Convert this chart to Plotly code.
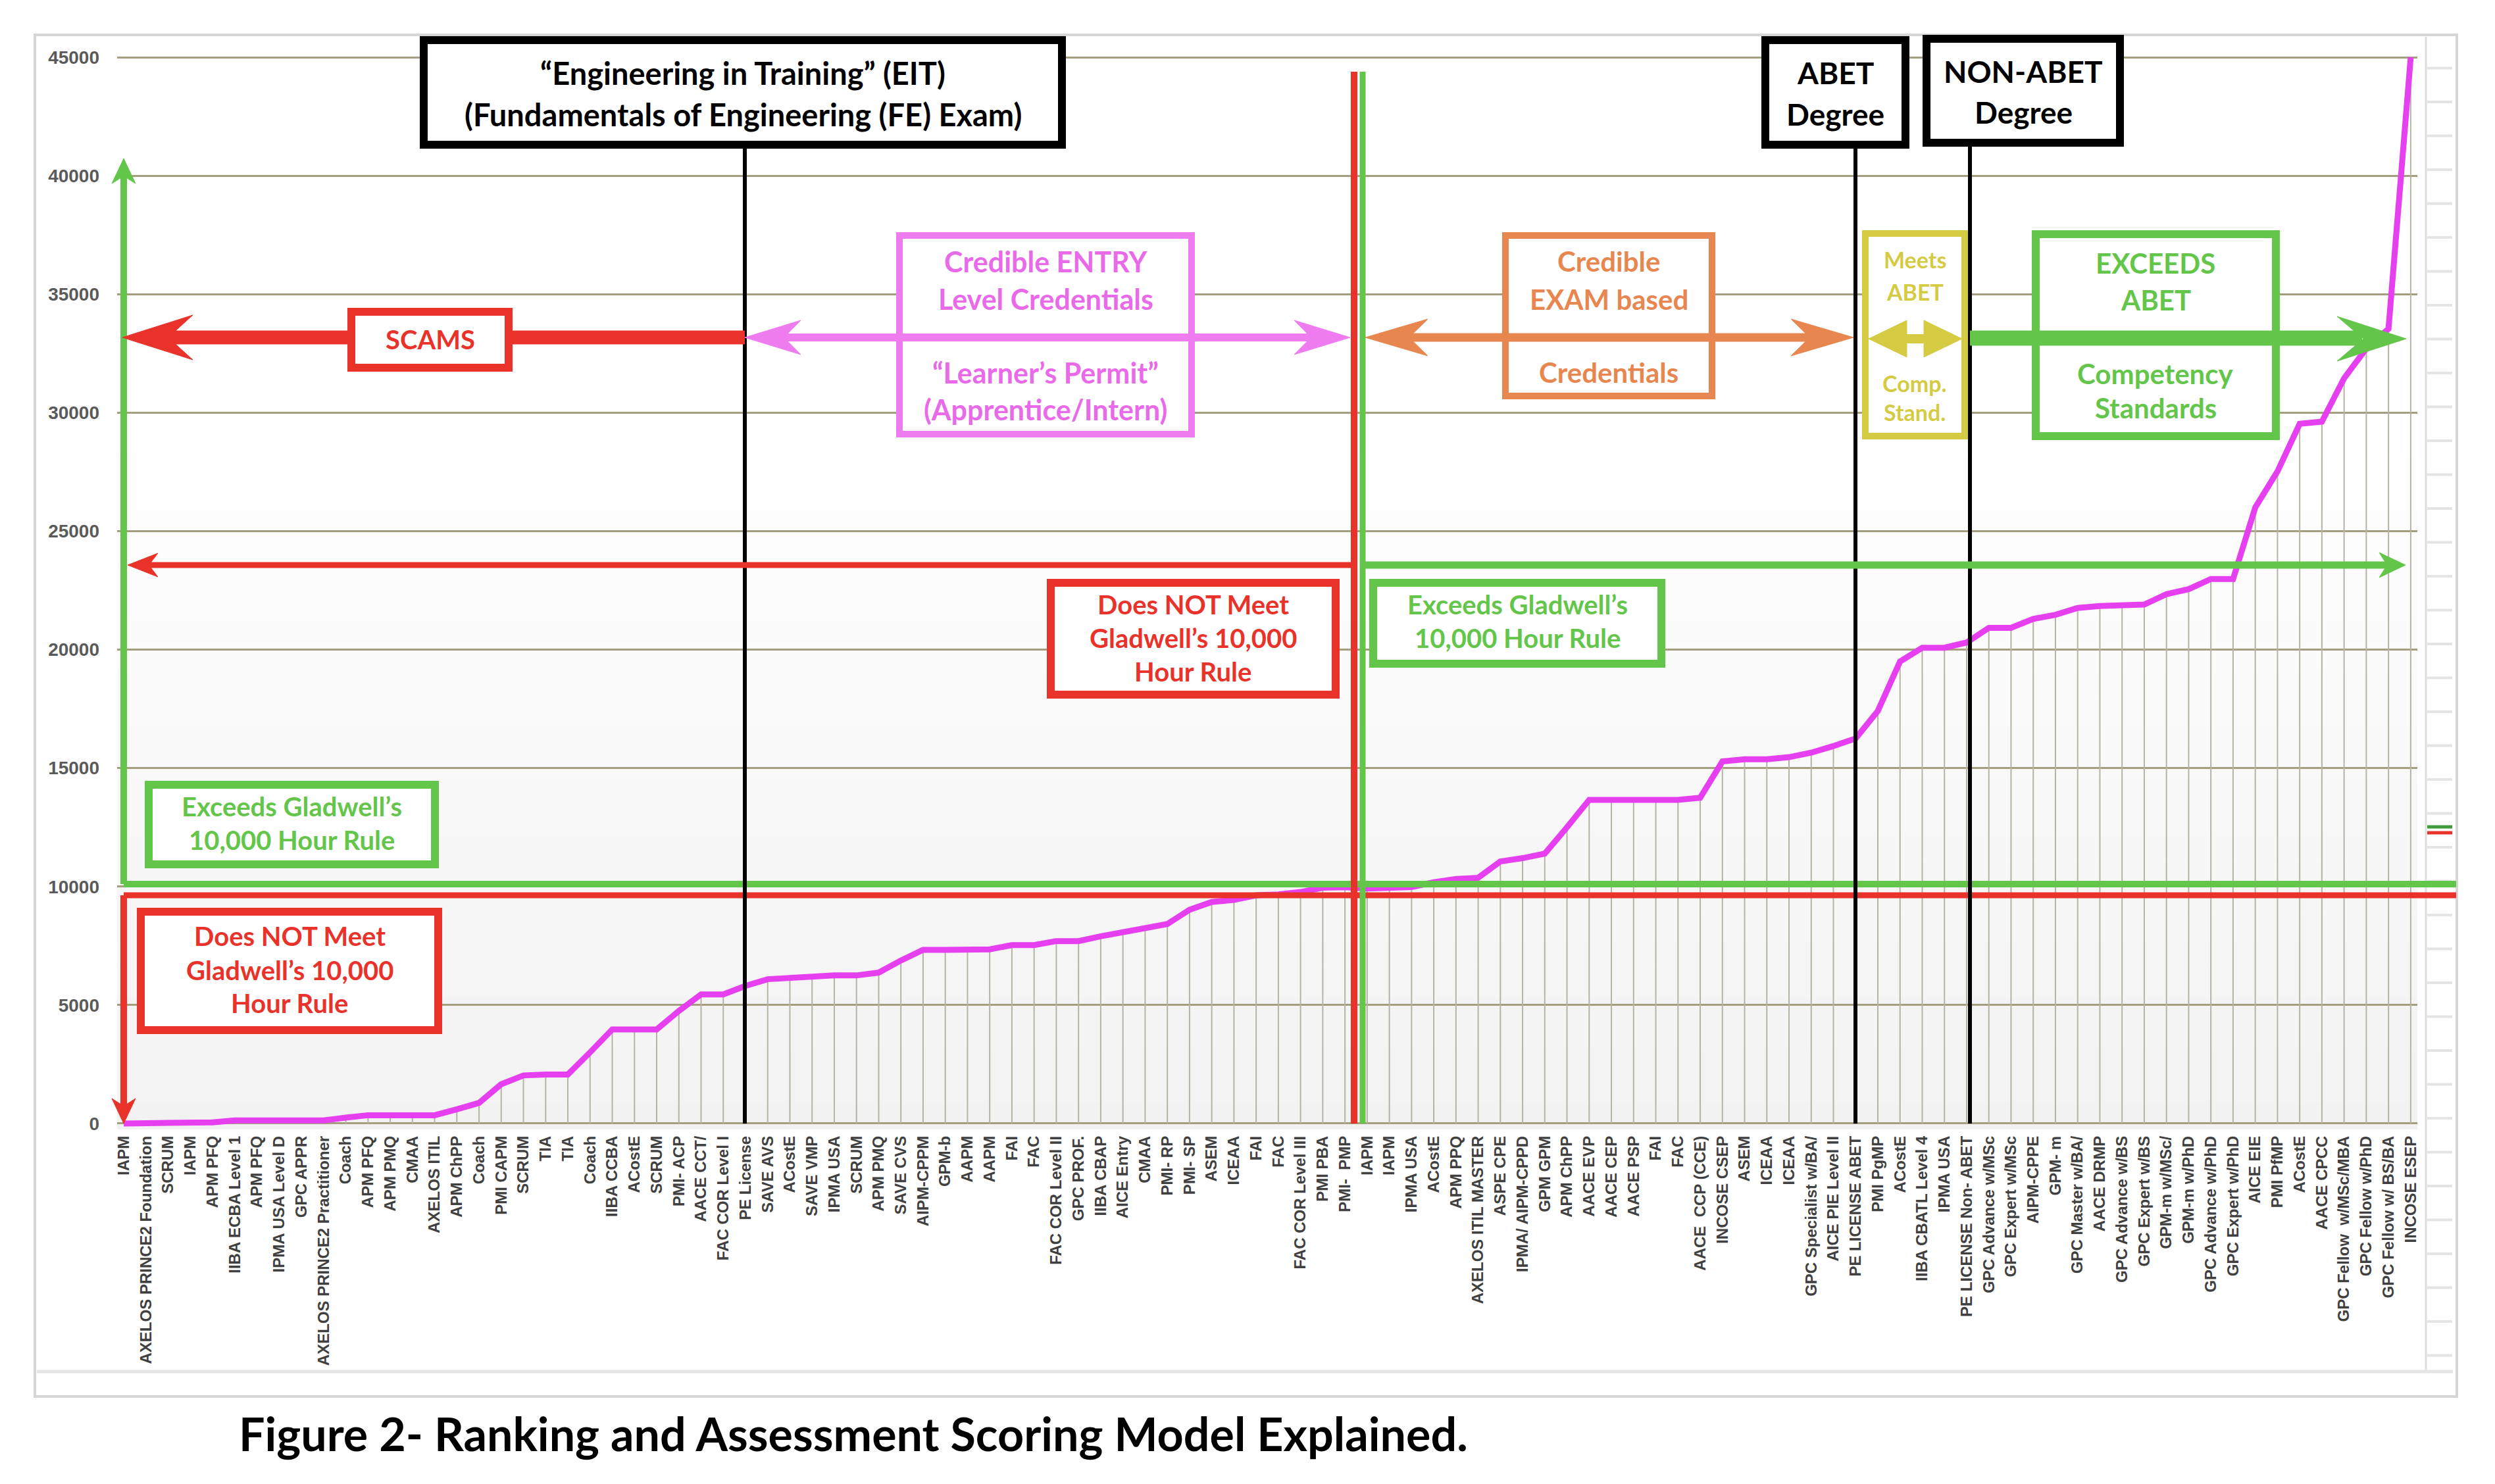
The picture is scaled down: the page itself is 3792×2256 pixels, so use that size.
import plotly.graph_objects as go

labels = [
    "IAPM", "AXELOS PRINCE2 Foundation", "SCRUM", "IAPM", "APM PFQ", "IIBA ECBA Level 1",
    "APM PFQ", "IPMA USA Level D", "GPC APPR", "AXELOS PRINCE2 Practitioner", "Coach",
    "APM PFQ", "APM PMQ", "CMAA", "AXELOS ITIL", "APM ChPP", "Coach", "PMI CAPM",
    "SCRUM", "TIA", "TIA", "Coach", "IIBA CCBA", "ACostE", "SCRUM", "PMI- ACP",
    "AACE CCT/", "FAC COR Level I", "PE License", "SAVE AVS", "ACostE", "SAVE VMP",
    "IPMA USA", "SCRUM", "APM PMQ", "SAVE CVS", "AIPM-CPPM", "GPM-b", "AAPM", "AAPM",
    "FAI", "FAC", "FAC COR Level II", "GPC PROF.", "IIBA CBAP", "AICE Entry", "CMAA",
    "PMI- RP", "PMI- SP", "ASEM", "ICEAA", "FAI", "FAC", "FAC COR Level III", "PMI PBA",
    "PMI-  PMP", "IAPM", "IAPM", "IPMA USA", "ACostE", "APM PPQ", "AXELOS ITIL MASTER",
    "ASPE CPE", "IPMA/ AIPM-CPPD", "GPM GPM", "APM ChPP", "AACE EVP", "AACE CEP",
    "AACE PSP", "FAI", "FAC", "AACE  CCP (CCE)", "INCOSE CSEP", "ASEM", "ICEAA", "ICEAA",
    "GPC Specialist w/BA/", "AICE PIE Level II", "PE LICENSE ABET", "PMI PgMP", "ACostE",
    "IIBA CBATL Level 4", "IPMA USA", "PE LICENSE Non- ABET", "GPC Advance w/MSc",
    "GPC Expert w/MSc", "AIPM-CPPE", "GPM- m", "GPC Master w/BA/", "AACE DRMP",
    "GPC Advance w/BS", "GPC Expert w/BS", "GPM-m w/MSc/", "GPM-m w/PhD",
    "GPC Advance w/PhD", "GPC Expert w/PhD", "AICE EIE", "PMI PfMP", "ACostE",
    "AACE CPCC", "GPC Fellow  w/MSc/MBA", "GPC Fellow w/PhD", "GPC Fellow w/ BS/BA",
    "INCOSE ESEP",
]

hours = [
    0, 0, 0, 0, 50, 130, 130, 130, 130, 130,
    250, 350, 350, 350, 350, 600, 870, 1660, 2030, 2070,
    2070, 3000, 3970, 3970, 3970, 4750, 5450, 5450, 5810, 6090,
    6150, 6150, 6250, 6250, 6370, 6880, 7330, 7330, 7330, 7350,
    7530, 7530, 7700, 7700, 7900, 8090, 8230, 8420, 9020, 9350,
    9440, 9630, 9670, 9770, 9950, 9970, 9920, 9940, 9980, 10180,
    10320, 10370, 11060, 11200, 11390, 12500, 13660, 13660, 13660, 13660,
    13660, 13750, 15280, 15370, 15370, 15460, 15650, 15930, 16250, 17410,
    19500, 20080, 20080, 20300, 20920, 20920, 21300, 21470, 21760, 21840,
    21900, 21900, 22340, 22550, 22980, 22980, 26000, 27520, 29530, 29620,
    31450, 32710, 33540, 45000,
]

y_ticks = [0, 5000, 10000, 15000, 20000, 25000, 30000, 35000, 40000, 45000]

W, H = 3792, 2256
# plot area in pixels
AL, AR, AT, AB = 178, 3674, 78, 1717


def px(x):
    return (x - AL) / (AR - AL)


def py(y):
    return (AB - y) / (AB - AT)


RED = "#e8322a"
GREEN = "#63c64a"
PINK = "#ee7cee"
PINK_T = "#e96ae9"
ORANGE = "#e8864f"
YELLOW = "#d4cb42"
FONT = "Lato, Open Sans, sans-serif"

fig = go.Figure()
idx = list(range(len(labels)))
drop_x, drop_y = [], []
for i, v in zip(idx, hours):
    drop_x += [i, i, None]
    drop_y += [0, v, None]
fig.add_trace(go.Scatter(x=drop_x, y=drop_y, mode="lines",
                         line=dict(color="#b6b3a4", width=2),
                         hoverinfo="skip", showlegend=False))
fig.add_trace(go.Scatter(x=idx, y=hours, mode="lines",
                         line=dict(color="#e63ff0", width=9),
                         showlegend=False))

shapes = []
ann = []


def line(x0, y0, x1, y1, color, w, layer="above"):
    shapes.append(dict(type="line", xref="paper", yref="paper",
                       x0=px(x0), y0=py(y0), x1=px(x1), y1=py(y1),
                       line=dict(color=color, width=w), layer=layer))


def rect(x0, y0, x1, y1, color, w, fill="white", layer="above"):
    shapes.append(dict(type="rect", xref="paper", yref="paper",
                       x0=px(x0), y0=py(y0), x1=px(x1), y1=py(y1),
                       line=dict(color=color, width=w), fillcolor=fill, layer=layer))


def poly(pts, color, layer="above"):
    d = "M " + " L ".join(f"{px(x):.5f},{py(y):.5f}" for x, y in pts) + " Z"
    shapes.append(dict(type="path", xref="paper", yref="paper", path=d,
                       fillcolor=color, line=dict(color=color, width=1), layer=layer))


def head(tx, ty, dx, dy, L, hh, color, notch=0.7):
    bx, by = tx - dx * L, ty - dy * L
    qx, qy = -dy, dx
    poly([(tx, ty), (bx + qx * hh, by + qy * hh),
          (tx - dx * L * notch, ty - dy * L * notch),
          (bx - qx * hh, by - qy * hh)], color)


def T(x, y, text, color, size, anchor="center"):
    ann.append(dict(xref="paper", yref="paper", x=px(x), y=py(y),
                    text=f"<b>{text}</b>", showarrow=False,
                    font=dict(family=FONT, size=size, color=color),
                    xanchor=anchor, yanchor="middle"))


# background gradient of plot area
NB = 40
for k in range(NB):
    t = (k + 0.5) / NB
    g = int(round(242 + 13 * min(1.0, t / 0.66)))
    shapes.append(dict(type="rect", xref="paper", yref="paper", x0=0, x1=1,
                       y0=k / NB, y1=(k + 1) / NB, line=dict(width=0),
                       fillcolor=f"rgb({g},{g},{g})", layer="below"))

# frame and spreadsheet remnants
rect(53, 53, 3734, 2123, "#d6d6d6", 4, fill="rgba(0,0,0,0)", layer="below")
line(3687, 56, 3687, 2085, "#dedede", 3, "below")
yk = 1185.0
while yk > 100:
    yk -= 51.5
k = yk + 51.5
while k < 2085:
    line(3689, k, 3727, k, "#e4e4e4", 4, "below")
    k += 51.5
line(56, 2085, 3728, 2085, "#e4e4e4", 5, "below")
line(3689, 1257, 3727, 1257, "#3f9a3a", 5)
line(3689, 1266, 3727, 1266, RED, 5)

# 10,000-hour threshold lines
line(188, 1344, 3733, 1344, GREEN, 10)
line(188, 1361, 3733, 1361, RED, 9)
line(188, 1344, 188, 262, GREEN, 10)
head(188, 241, 0, -1, 38, 18, GREEN)
line(188, 1361, 188, 1685, RED, 10)
head(188, 1708, 0, 1, 38, 18, RED)
line(2058, 109, 2058, 1708, RED, 10)
line(2071, 109, 2071, 1708, GREEN, 9)

# black markers
for xb in (1132, 2820, 2994):
    line(xb, 222, xb, 1708, "black", 6)

# thin arrows at ~23,000
line(225, 859, 2058, 859, RED, 9)
head(194, 859, -1, 0, 46, 18, RED)
line(2075, 859, 3630, 859, GREEN, 11)
head(3656, 859, 1, 0, 40, 19, GREEN)

# category boxes crossed by arrows
rect(1367, 358, 1811, 660, PINK, 10)
rect(2288, 358, 2602, 602, ORANGE, 10)
rect(2835, 355, 2986, 663, YELLOW, 10)
rect(3094, 356, 3459, 663, GREEN, 12)

line(1190, 513, 1995, 513, PINK, 12)
head(1132, 513, -1, 0, 85, 26, PINK)
head(2052, 513, 1, 0, 85, 26, PINK)
line(2140, 513, 2750, 513, ORANGE, 13)
head(2075, 513, -1, 0, 95, 28, ORANGE)
head(2817, 513, 1, 0, 95, 28, ORANGE)
poly([(2840, 515), (2898, 487), (2898, 543)], YELLOW)
poly([(2982, 515), (2924, 487), (2924, 543)], YELLOW)
line(2885, 515, 2937, 515, YELLOW, 14)
line(2994, 514, 3590, 514, GREEN, 23)
head(3657, 515, 1, 0, 105, 34, GREEN, 0.62)

# SCAMS
line(255, 513, 1132, 513, RED, 21)
head(186, 513, -1, 0, 107, 34, RED, 0.65)
rect(534, 474, 773, 559, RED, 12)

# header boxes
rect(644, 61, 1614, 220, "black", 12)
rect(2683, 61, 2896, 220, "black", 12)
rect(2928, 59, 3222, 217, "black", 12)

# Gladwell boxes
rect(1597, 886, 2030, 1056, RED, 12)
rect(2087, 886, 2525, 1009, GREEN, 12)
rect(226, 1193, 661, 1314, GREEN, 12)
rect(214, 1386, 666, 1566, RED, 12)

# texts
T(1129, 111, "“Engineering in Training” (EIT)", "black", 47)
T(1129, 174, "(Fundamentals of Engineering (FE) Exam)", "black", 47)
T(2789, 111, "ABET", "black", 46)
T(2789, 174, "Degree", "black", 46)
T(3075, 108, "NON-ABET", "black", 46)
T(3075, 171, "Degree", "black", 46)
T(654, 516, "SCAMS", RED, 40)
T(1589, 397, "Credible ENTRY", PINK_T, 43)
T(1589, 455, "Level Credentials", PINK_T, 43)
T(1589, 566, "“Learner’s Permit”", PINK_T, 43)
T(1589, 622, "(Apprentice/Intern)", PINK_T, 43)
T(2445, 397, "Credible", ORANGE, 42)
T(2445, 455, "EXAM based", ORANGE, 42)
T(2445, 566, "Credentials", ORANGE, 42)
T(2910, 395, "Meets", YELLOW, 34)
T(2910, 443, "ABET", YELLOW, 34)
T(2910, 582, "Comp.", YELLOW, 34)
T(2910, 626, "Stand.", YELLOW, 34)
T(3276, 400, "EXCEEDS", GREEN, 42)
T(3276, 456, "ABET", GREEN, 42)
T(3276, 568, "Competency", GREEN, 42)
T(3276, 620, "Standards", GREEN, 42)
T(1813, 919, "Does NOT Meet", RED, 40)
T(1813, 970, "Gladwell’s 10,000", RED, 40)
T(1813, 1021, "Hour Rule", RED, 40)
T(2306, 919, "Exceeds Gladwell’s", GREEN, 40)
T(2306, 970, "10,000 Hour Rule", GREEN, 40)
T(443, 1226, "Exceeds Gladwell’s", GREEN, 40)
T(443, 1277, "10,000 Hour Rule", GREEN, 40)
T(440, 1423, "Does NOT Meet", RED, 40)
T(440, 1475, "Gladwell’s 10,000", RED, 40)
T(440, 1525, "Hour Rule", RED, 40)
T(361, 2179, "Figure 2- Ranking and Assessment Scoring Model Explained.", "black", 70, anchor="left")

fig.update_layout(
    width=W, height=H,
    margin=dict(l=AL, r=W - AR, t=AT, b=H - AB, pad=0),
    paper_bgcolor="white", plot_bgcolor="white",
    shapes=shapes, annotations=ann, showlegend=False,
    xaxis=dict(range=[-0.3, len(labels) - 1 + 0.3], tickmode="array",
               tickvals=idx, ticktext=labels, tickangle=-90,
               showgrid=False, zeroline=False, showline=False, ticks="",
               tickfont=dict(family="Liberation Sans, Arial, sans-serif", size=24,
                             color="#404040", weight="bold"),
               ticklabelstandoff=4, automargin=False),
    yaxis=dict(range=[-250, 45250], tickmode="array", tickvals=y_ticks,
               ticktext=[str(v) for v in y_ticks],
               showgrid=True, gridcolor="#a59e7e", gridwidth=3,
               zeroline=False, showline=False, ticks="",
               tickfont=dict(family="Liberation Sans, Arial, sans-serif", size=28,
                             color="#5a5a5a", weight="bold"),
               ticklabelstandoff=26, automargin=False),
)

fig.write_html("out.html")
